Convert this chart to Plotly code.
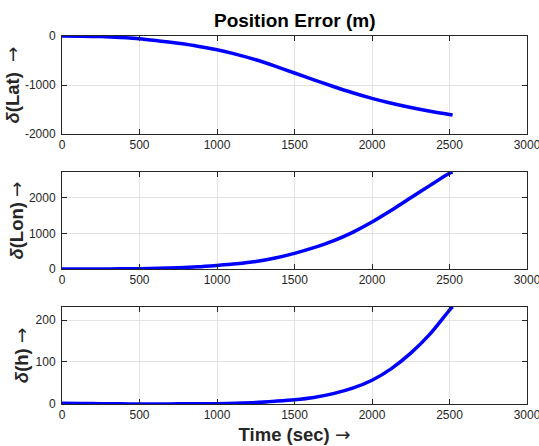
import plotly.graph_objects as go

# Data
time_s = [0, 125, 250, 375, 500, 625, 750, 875, 1000, 1125, 1250, 1375, 1500,
          1625, 1750, 1875, 2000, 2125, 2250, 2375, 2500, 2520]
d_lat = [0, -3, -12, -30, -55, -100, -150, -208, -282, -375, -485, -615, -755,
         -895, -1030, -1158, -1272, -1372, -1458, -1535, -1602, -1612]
d_lon = [0, 0.5, 2, 5, 10, 22, 38, 62, 100, 145, 210, 310, 441,
         600, 790, 1030, 1320, 1650, 2000, 2350, 2690, 2725]
d_h = [1, 0.5, 0, -0.5, -0.8, -0.8, -0.5, -0.2, 0, 1.2, 3, 6, 9.5,
       15, 24, 37, 56, 84, 121, 167, 224, 232]

x_ticks = [0, 500, 1000, 1500, 2000, 2500, 3000]
lat_ticks = [-2000, -1000, 0]
lat_labels = ["-2000", "-1000", "0"]
lon_ticks = [0, 1000, 2000]
lon_labels = ["0", "1000", "2000"]
h_ticks = [0, 100, 200]
h_labels = ["0", "100", "200"]

FONT = "Liberation Sans, Arial, sans-serif"
AX = "#262626"
GRID = "#e3e3e3"
ARROW = '<span style="font-family:DejaVu Sans;font-weight:normal">→</span>'

fig = go.Figure()
series = [(d_lat, "y"), (d_lon, "y2"), (d_h, "y3")]
for i, (vals, yref) in enumerate(series):
    fig.add_trace(go.Scatter(
        x=time_s, y=vals, mode="lines",
        line=dict(color="#0000ff", width=3.5, shape="spline", smoothing=0.8),
        xaxis="x" if i == 0 else f"x{i+1}", yaxis=yref, showlegend=False, hoverinfo="skip"))

common_x = dict(range=[0, 3000], tickvals=x_ticks, ticktext=[str(v) for v in x_ticks],
                showline=True, linecolor=AX, linewidth=1, mirror="allticks",
                ticks="inside", ticklen=5, tickcolor=AX, showgrid=True, gridcolor=GRID,
                zeroline=False, tickfont=dict(family=FONT, size=12, color=AX),
                ticklabeloverflow="allow", automargin=False)
lab_font = dict(family=FONT, size=18.5, color=AX)
common_y = dict(showline=True, linecolor=AX, linewidth=1, mirror="allticks",
                ticks="inside", ticklen=5, tickcolor=AX, showgrid=True, gridcolor=GRID,
                zeroline=False, tickfont=dict(family=FONT, size=12, color=AX),
                ticklabelstandoff=3, ticklabeloverflow="allow", automargin=False)

doms = [[0.7337, 1.0], [0.3668, 0.6304], [0.0, 0.2644]]

fig.update_layout(
    width=539, height=446,
    margin=dict(l=62, r=12, t=36, b=42),
    plot_bgcolor="white", paper_bgcolor="white",
    xaxis=dict(**common_x, anchor="y", domain=[0, 1]),
    xaxis2=dict(**common_x, anchor="y2", domain=[0, 1]),
    xaxis3=dict(**common_x, anchor="y3", domain=[0, 1],
                title=dict(text="<b>Time (sec) </b>" + ARROW, font=lab_font, standoff=6)),
    yaxis=dict(**common_y, anchor="x", domain=doms[0], range=[-2000, 0],
               tickvals=lat_ticks, ticktext=lat_labels,
               title=dict(text="<b><i>δ</i>(Lat)  </b>" + ARROW, font=lab_font, standoff=0)),
    yaxis2=dict(**common_y, anchor="x2", domain=doms[1], range=[0, max(d_lon)],
                tickvals=lon_ticks, ticktext=lon_labels,
                title=dict(text="<b><i>δ</i>(Lon) </b>" + ARROW, font=lab_font, standoff=0)),
    yaxis3=dict(**common_y, anchor="x3", domain=doms[2], range=[min(d_h), max(d_h)],
                tickvals=h_ticks, ticktext=h_labels,
                title=dict(text="<b><i>δ</i>(h) </b>" + ARROW, font=lab_font, standoff=2)),
)

fig.add_annotation(text="<b>Position Error (m)</b>", x=0.5, y=1.0, xref="paper", yref="paper",
                   yanchor="middle", yshift=16, showarrow=False,
                   font=dict(family=FONT, size=19, color="black"))

fig.write_html("out.html")
